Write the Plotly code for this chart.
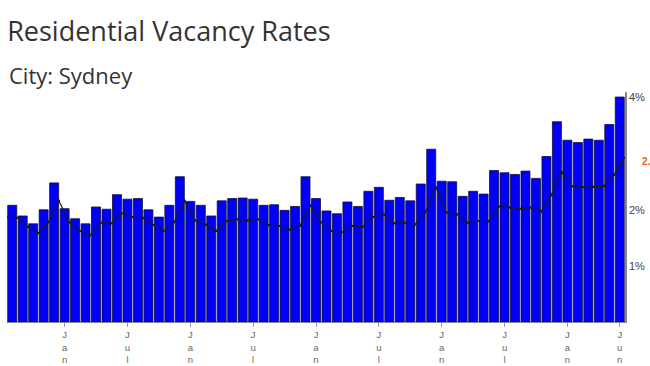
import plotly.graph_objects as go
import pandas as pd

# ---- data ----
months = pd.date_range("2015-08-01", "2020-06-01", freq="MS")
month_labels = [m.strftime("%b %Y") for m in months]

vacancy_rate = [2.08, 1.89, 1.75, 2.00, 2.48, 2.02, 1.84, 1.75, 2.05, 2.01,
                2.27, 2.19, 2.20, 2.00, 1.87, 2.08, 2.59, 2.15, 2.08, 1.89,
                2.16, 2.20, 2.21, 2.19, 2.08, 2.09, 1.99, 2.06, 2.59, 2.20,
                1.98, 1.93, 2.14, 2.06, 2.33, 2.40, 2.17, 2.22, 2.16, 2.46,
                3.08, 2.51, 2.50, 2.24, 2.33, 2.28, 2.70, 2.66, 2.63, 2.69,
                2.56, 2.95, 3.57, 3.24, 3.20, 3.26, 3.24, 3.52, 4.01]

# line series starts one month before the bars (Jul 2015)
trend_start_index = -1
trend_rate = [1.87, 1.86, 1.70, 1.58, 1.78, 2.16, 1.78, 1.62, 1.55, 1.77,
              1.76, 1.94, 1.87, 1.86, 1.73, 1.62, 1.78, 2.16, 1.81, 1.74,
              1.62, 1.80, 1.83, 1.81, 1.83, 1.73, 1.71, 1.65, 1.71, 2.08,
              1.78, 1.62, 1.60, 1.71, 1.70, 1.87, 1.92, 1.76, 1.77, 1.74,
              1.96, 2.40, 1.95, 1.92, 1.77, 1.80, 1.79, 2.06, 2.04, 2.02,
              2.04, 1.96, 2.26, 2.67, 2.42, 2.40, 2.41, 2.42, 2.62, 2.93]

y_tick_values = [1, 2, 4]
y_tick_text = ["1%", "2%", "4%"]
last_value_label = "2.9%"

# ---- positions derived from data ----
bar_x = list(range(len(vacancy_rate)))
line_offset = 0.45
line_x = [trend_start_index + i + line_offset for i in range(len(trend_rate))]

tick_idx = [i for i, m in enumerate(months) if m.month in (1, 7)]
if tick_idx[-1] != len(months) - 1:
    tick_idx.append(len(months) - 1)
tick_text = ["<br>".join(months[i].strftime("%b")) for i in tick_idx]

fig = go.Figure()
fig.add_trace(go.Bar(
    x=bar_x, y=vacancy_rate,
    marker=dict(color="#0000f8", line=dict(color="#101030", width=0.8)),
    customdata=month_labels, hovertemplate="%{customdata}: %{y:.2f}%<extra></extra>",
))
fig.add_trace(go.Scatter(
    x=line_x, y=trend_rate, mode="lines+markers",
    line=dict(color="#1a1a1a", width=1.2),
    marker=dict(size=2.5, color="#1a1a1a"),
    hoverinfo="skip",
))

fig.update_layout(
    width=650, height=366,
    margin=dict(l=7, r=25, t=92, b=44, autoexpand=False),
    paper_bgcolor="white", plot_bgcolor="white",
    showlegend=False, bargap=0.14,
    font=dict(family="Liberation Sans, Arial", color="#444"),
    title=dict(text="Residential Vacancy Rates", x=0.011, xanchor="left",
               y=0.94, yanchor="top", xref="container", yref="container",
               font=dict(family="Open Sans", size=27, color="#333")),
    xaxis=dict(range=[-0.5, len(vacancy_rate) - 0.5], tickmode="array",
               tickvals=tick_idx, ticktext=tick_text, tickangle=0,
               tickfont=dict(size=9.5, color="#666"), automargin=False,
               showline=True, linecolor="#888", linewidth=1,
               ticks="outside", ticklen=4, tickcolor="#999",
               showgrid=False, zeroline=False, fixedrange=True),
    yaxis=dict(range=[0, 4.1], side="right", tickmode="array",
               tickvals=y_tick_values, ticktext=y_tick_text,
               tickfont=dict(size=11, color="#444"), automargin=False,
               showline=True, linecolor="#888", linewidth=1.5,
               showgrid=False, zeroline=False, ticks="", fixedrange=True),
    annotations=[
        dict(text="City: Sydney", xref="paper", yref="paper", x=0, y=1.0,
             xanchor="left", yanchor="bottom", yshift=0, showarrow=False,
             font=dict(family="Open Sans", size=22, color="#333")),
        dict(text="<b>" + last_value_label + "</b>", xref="paper", yref="y",
             x=1.024, y=trend_rate[-1] - 0.07, xanchor="left", yanchor="middle",
             showarrow=False, font=dict(size=10, color="#e8601c")),
    ],
)

fig.write_html("out.html", config={"displayModeBar": False},
               post_script="document.body.style.margin='0';")
